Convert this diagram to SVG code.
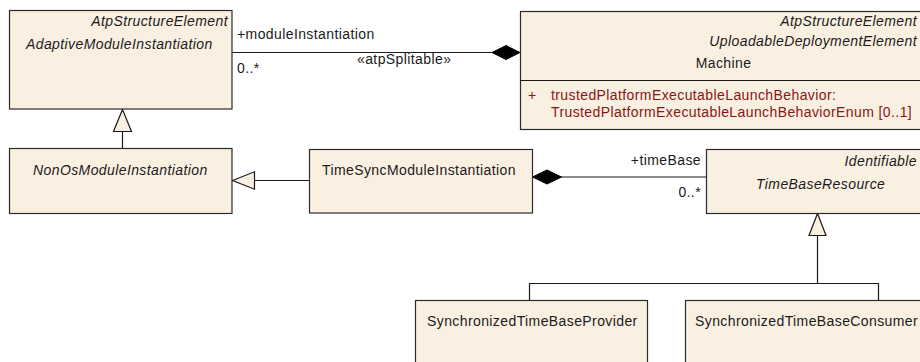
<svg xmlns="http://www.w3.org/2000/svg" width="920" height="362" viewBox="0 0 920 362">
<defs>
<style>
.box{fill:#FAF0E2;stroke:#2b2b2b;stroke-width:1.2}
.ln{fill:none;stroke:#1a1a1a;stroke-width:1.2}
.gen{fill:#FAF0E2;stroke:#1a1a1a;stroke-width:1.2}
.dia{fill:#000;stroke:#000;stroke-width:1}
text{font-family:"Liberation Sans",Arial,sans-serif;font-size:14px;fill:#1a1a1a;letter-spacing:0.4px}
.it{font-style:italic}
.end{text-anchor:end}
.mid{text-anchor:middle}
.attr{fill:#8B1414}
</style>
</defs>
<g id="connectors">
<!-- association AdaptiveModuleInstantiation - Machine -->
<line class="ln" x1="232" y1="52.5" x2="492" y2="52.5"/>
<polygon class="dia" points="492,52.5 506,45.5 520,52.5 506,59.5"/>
<text x="237" y="39">+moduleInstantiation</text>
<text x="237" y="73">0..*</text>
<text x="357" y="64">«atpSplitable»</text>
<!-- generalization NonOs -> Adaptive -->
<line class="ln" x1="122.5" y1="148" x2="122.5" y2="131.5"/>
<polygon class="gen" points="122.5,109.5 113.5,131.5 131.5,131.5"/>
<!-- generalization TimeSync -> NonOs -->
<line class="ln" x1="309" y1="180.5" x2="254.5" y2="180.5"/>
<polygon class="gen" points="232.5,180.5 254.5,171.8 254.5,189.2"/>
<!-- composition TimeSync - TimeBaseResource -->
<line class="ln" x1="561" y1="177" x2="706" y2="177"/>
<polygon class="dia" points="532.5,177 547,170 561.5,177 547,184"/>
<text class="end" x="701" y="165">+timeBase</text>
<text class="end" x="701" y="197">0..*</text>
<!-- generalization Provider/Consumer -> TimeBaseResource -->
<polyline class="ln" points="529.5,300 529.5,283.5 878.5,283.5 878.5,300"/>
<line class="ln" x1="817.5" y1="283.5" x2="817.5" y2="235.5"/>
<polygon class="gen" points="817.5,213.5 809,235.5 826,235.5"/>
</g>
<g id="AdaptiveModuleInstantiation">
<rect class="box" x="9.5" y="10.5" width="222.5" height="98.5"/>
<text class="it end" x="228" y="26">AtpStructureElement</text>
<text class="it" x="26" y="49">AdaptiveModuleInstantiation</text>
</g>
<g id="Machine">
<rect class="box" x="520.5" y="11.5" width="406" height="118"/>
<line class="ln" x1="520.5" y1="80.5" x2="926.5" y2="80.5"/>
<text class="it end" x="917" y="26">AtpStructureElement</text>
<text class="it end" x="917" y="46">UploadableDeploymentElement</text>
<text class="mid" x="723.5" y="68">Machine</text>
<text class="attr" x="528" y="100">+</text>
<text class="attr" x="551" y="100">trustedPlatformExecutableLaunchBehavior:</text>
<text class="attr" x="551" y="117">TrustedPlatformExecutableLaunchBehaviorEnum [0..1]</text>
</g>
<g id="NonOsModuleInstantiation">
<rect class="box" x="9.5" y="148.5" width="222.5" height="65"/>
<text class="it" x="33" y="175">NonOsModuleInstantiation</text>
</g>
<g id="TimeSyncModuleInstantiation">
<rect class="box" x="309.5" y="149.5" width="223" height="63.5"/>
<text x="322" y="175">TimeSyncModuleInstantiation</text>
</g>
<g id="TimeBaseResource">
<rect class="box" x="706.5" y="149.5" width="223" height="64"/>
<text class="it end" x="917" y="166">Identifiable</text>
<text class="it" x="756" y="189">TimeBaseResource</text>
</g>
<g id="SynchronizedTimeBaseProvider">
<rect class="box" x="415.5" y="300.5" width="232" height="80"/>
<text x="427" y="326">SynchronizedTimeBaseProvider</text>
</g>
<g id="SynchronizedTimeBaseConsumer">
<rect class="box" x="685.5" y="300.5" width="255" height="80"/>
<text x="695" y="326">SynchronizedTimeBaseConsumer</text>
</g>
</svg>
